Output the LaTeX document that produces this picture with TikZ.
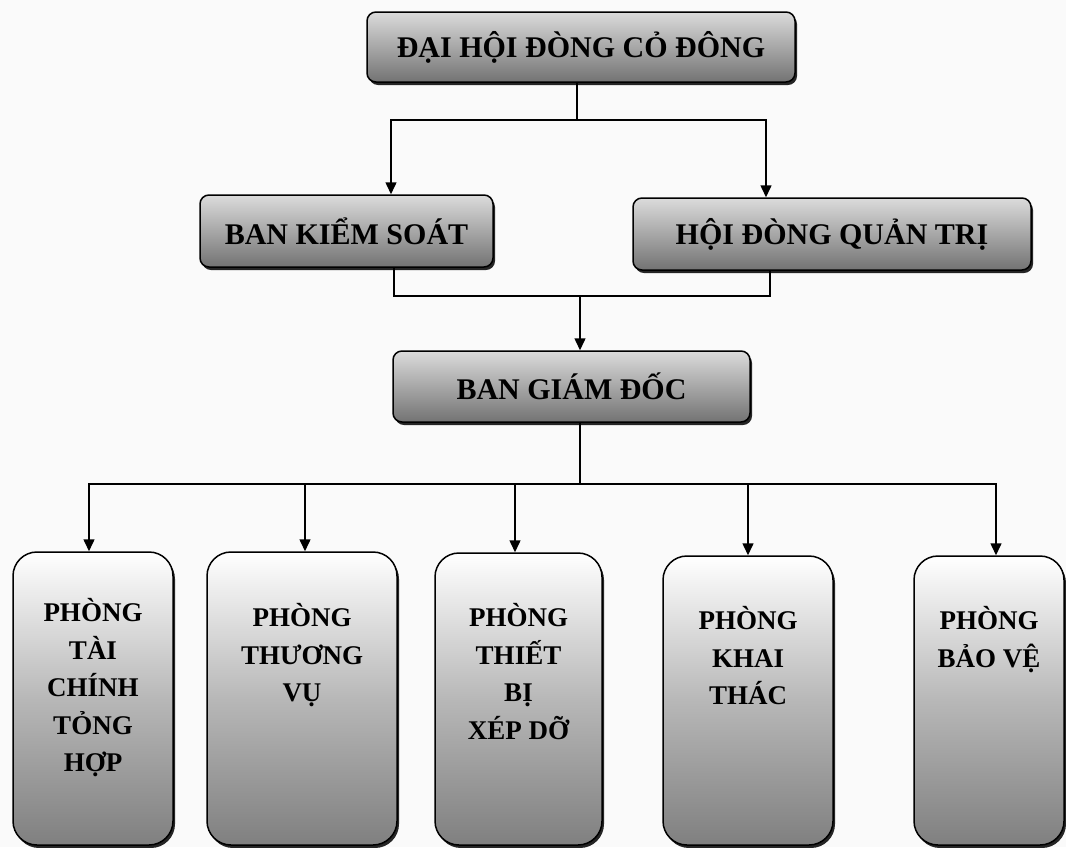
\documentclass[tikz,border=0pt]{standalone}
\usepackage{fontspec}
\setmainfont{Liberation Serif}
\usetikzlibrary{arrows.meta,shadows,calc}
\definecolor{bgc}{RGB}{250,250,250}
\tikzset{
  boxshadow/.style={drop shadow={shadow xshift=2pt,shadow yshift=-3pt,fill=black,opacity=0.85}},
  topbox/.style={draw=black,line width=1.5pt,rounded corners=9pt,
    top color=black!14,bottom color=black!55,boxshadow,
    font=\fontsize{30}{36}\selectfont\bfseries,inner sep=0pt},
  deptbox/.style={draw=black,line width=1.5pt,rounded corners=24pt,
    top color=white,bottom color=black!50,middle color=black!28,boxshadow,inner sep=0pt},
  depttext/.style={anchor=north,align=center,inner sep=0pt,
    font=\fontsize{27}{37.5}\selectfont\bfseries},
  conn/.style={line width=1.5pt,draw=black},
  arr/.style={conn,-{Triangle[length=12pt,width=11pt]}}
}
\begin{document}
\begin{tikzpicture}[x=1pt,y=-1pt]
\fill[bgc] (0,0) rectangle (1066,847);
\useasboundingbox (0,0) rectangle (1066,847);

% upper level
\node[topbox,minimum width=428pt,minimum height=70pt] (dh) at (581,47) {ĐẠI HỘI ĐÒNG CỎ ĐÔNG};
\node[topbox,minimum width=293pt,minimum height=72pt] (bks) at (346.5,231) {BAN KIỂM SOÁT};
\node[topbox,minimum width=398pt,minimum height=72pt] (hd) at (832,234) {HỘI ĐÒNG QUẢN TRỊ};
\node[topbox,minimum width=357pt,minimum height=71pt] (bgd) at (571.5,386.5) {BAN GIÁM ĐỐC};

% departments
\node[deptbox,minimum width=160pt,minimum height=293pt] (p1) at (93,698.5) {};
\node[deptbox,minimum width=190pt,minimum height=293pt] (p2) at (302,698.5) {};
\node[deptbox,minimum width=167pt,minimum height=292pt] (p3) at (518.5,699) {};
\node[deptbox,minimum width=170pt,minimum height=289pt] (p4) at (748,700.5) {};
\node[deptbox,minimum width=150pt,minimum height=289pt] (p5) at (989,700.5) {};

\node[depttext] (t1) at ($(p1.north)+(0,47)$) {PHÒNG\\TÀI\\CHÍNH\\TỎNG\\HỢP};
\node[depttext] (t2) at ($(p2.north)+(0,52)$) {PHÒNG\\THƯƠNG\\VỤ};
\node[depttext] (t3) at ($(p3.north)+(0,51)$) {PHÒNG\\THIẾT\\BỊ\\XÉP DỠ};
\node[depttext] (t4) at ($(p4.north)+(0,51)$) {PHÒNG\\KHAI\\THÁC};
\node[depttext] (t5) at ($(p5.north)+(0,51)$) {PHÒNG\\BẢO VỆ};

% junction points and branch positions
\coordinate (j1) at (577,120);
\coordinate (a1) at (391,0);
\coordinate (a2) at (766,0);
\coordinate (b1) at (394,0);
\coordinate (b2) at (770,0);
\coordinate (j2) at (580,296);
\coordinate (j3) at (580,484);
\coordinate (c1) at (89,0);
\coordinate (c2) at (305,0);
\coordinate (c3) at (515,0);
\coordinate (c4) at (748,0);
\coordinate (c5) at (996,0);

% connectors
\draw[conn] (dh.south -| j1) -- (j1);
\draw[arr] (j1) -| (bks.north -| a1);
\draw[arr] (j1) -| (hd.north -| a2);

\draw[conn] (bks.south -| b1) |- (j2);
\draw[conn] (hd.south -| b2) |- (j2);
\draw[arr] (j2) -- (bgd.north -| j2);

\draw[conn] (bgd.south -| j3) -- (j3);
\draw[arr] (j3) -| (p1.north -| c1);
\draw[arr] (j3) -| (p2.north -| c2);
\draw[arr] (j3) -| (p3.north -| c3);
\draw[arr] (j3) -| (p4.north -| c4);
\draw[arr] (j3) -| (p5.north -| c5);
\end{tikzpicture}
\end{document}
